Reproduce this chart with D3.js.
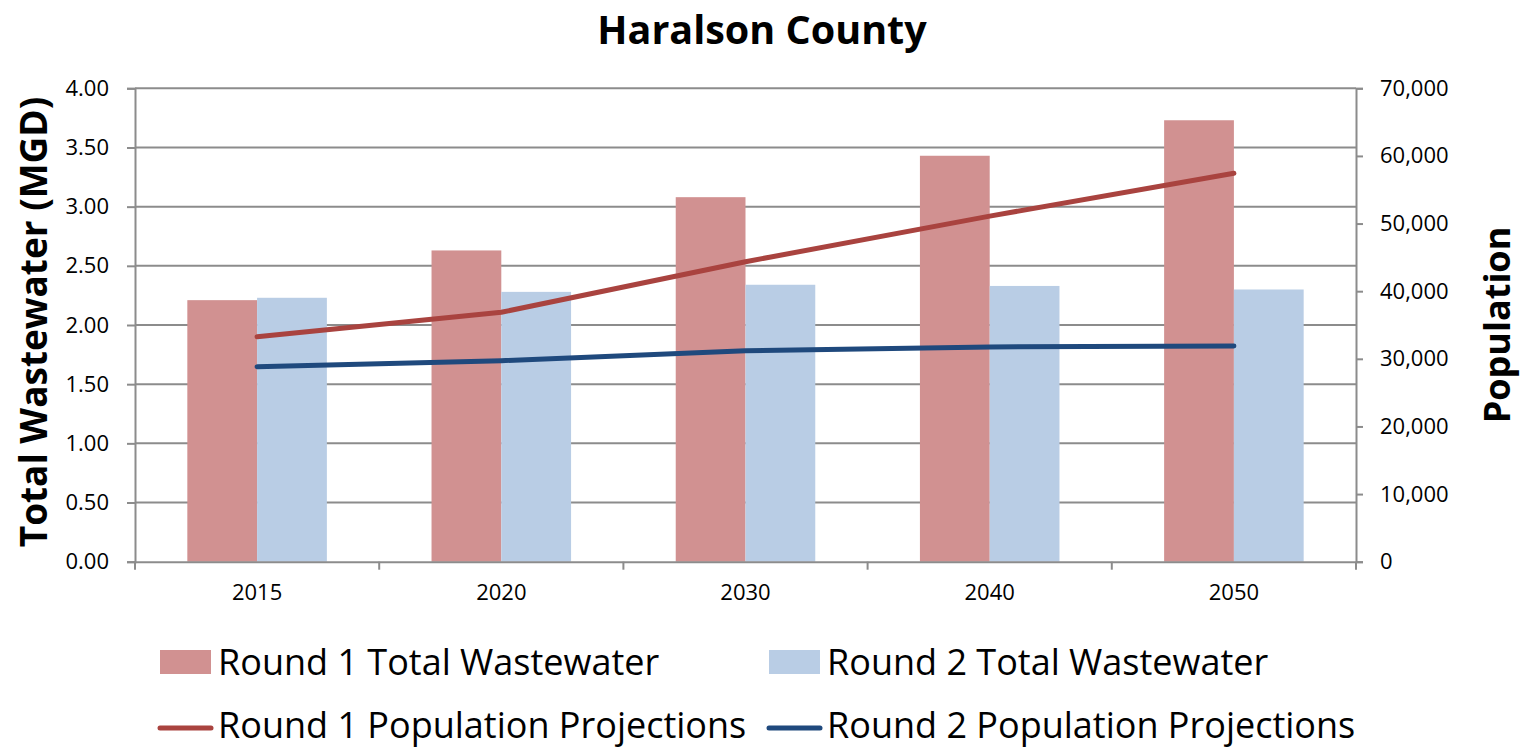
<!DOCTYPE html>
<html>
<head>
<meta charset="utf-8">
<script src="https://cdn.jsdelivr.net/npm/d3@7"></script>
<style>
  body { margin: 0; background: #fff; }
  svg text { font-family: "Open Sans", Lato, sans-serif; fill: #000; }
</style>
</head>
<body>
<div id="chart"></div>
<script>
// chart data
const years = ["2015", "2020", "2030", "2040", "2050"];
const round1Wastewater = [2.21, 2.63, 3.08, 3.43, 3.73];
const round2Wastewater = [2.23, 2.28, 2.34, 2.33, 2.30];
const round1Population = [33270, 36880, 44360, 51100, 57430];
const round2Population = [28830, 29720, 31200, 31750, 31900];
const leftTicks = [0, 0.5, 1, 1.5, 2, 2.5, 3, 3.5, 4];
const rightTicks = [0, 10000, 20000, 30000, 40000, 50000, 60000, 70000];

const width = 1524, height = 750;
const plot = { left: 135, right: 1356, top: 88.3, bottom: 561.7 };

const svg = d3.select("#chart").append("svg")
    .attr("width", width)
    .attr("height", height);

// scales
const x0 = d3.scaleBand().domain(years).range([plot.left, plot.right]);
const x1 = d3.scaleBand().domain(["r1", "r2"])
    .range([0, x0.bandwidth()])
    .paddingInner(0).paddingOuter(0.75);
const yL = d3.scaleLinear().domain([0, 4]).range([plot.bottom, plot.top]);
const yR = d3.scaleLinear().domain([0, 70000]).range([plot.bottom, plot.top]);

const gridColor = "#8c8c8c";

// gridlines
svg.append("g")
    .selectAll("line")
    .data(leftTicks.filter(d => d > 0))
    .enter().append("line")
    .attr("x1", plot.left).attr("x2", plot.right)
    .attr("y1", d => yL(d)).attr("y2", d => yL(d))
    .attr("stroke", gridColor).attr("stroke-width", 2);

// bars
const bars = svg.append("g");
bars.selectAll("rect.r1")
    .data(years)
    .enter().append("rect")
    .attr("x", (d) => x0(d) + x1("r1"))
    .attr("y", (d, i) => yL(round1Wastewater[i]))
    .attr("width", x1.bandwidth())
    .attr("height", (d, i) => yL(0) - yL(round1Wastewater[i]))
    .attr("fill", "#d19191");
bars.selectAll("rect.r2")
    .data(years)
    .enter().append("rect")
    .attr("x", (d) => x0(d) + x1("r2"))
    .attr("y", (d, i) => yL(round2Wastewater[i]))
    .attr("width", x1.bandwidth())
    .attr("height", (d, i) => yL(0) - yL(round2Wastewater[i]))
    .attr("fill", "#b9cde5");

// axes
const leftAxis = svg.append("g")
    .attr("transform", `translate(${plot.left},0)`)
    .call(d3.axisLeft(yL).tickValues(leftTicks).tickFormat(d3.format(".2f")).tickSize(8).tickPadding(18));
const rightAxis = svg.append("g")
    .attr("transform", `translate(${plot.right},0)`)
    .call(d3.axisRight(yR).tickValues(rightTicks).tickFormat(d3.format(",")).tickSize(7).tickPadding(17));
const bottomAxis = svg.append("g")
    .attr("transform", `translate(0,${plot.bottom})`)
    .call(d3.axisBottom(x0).tickSize(0).tickPadding(23));
// category boundary ticks
svg.append("g")
    .selectAll("line")
    .data(years.concat(["end"]))
    .enter().append("line")
    .attr("x1", (d, i) => i < years.length ? x0(d) : plot.right)
    .attr("x2", (d, i) => i < years.length ? x0(d) : plot.right)
    .attr("y1", plot.bottom).attr("y2", plot.bottom + 8)
    .attr("stroke", gridColor).attr("stroke-width", 2);

[leftAxis, rightAxis, bottomAxis].forEach(g => {
    g.select(".domain").attr("stroke", gridColor).attr("stroke-width", 2);
    g.selectAll(".tick line").attr("stroke", gridColor).attr("stroke-width", 2);
    g.selectAll(".tick text").style("font-size", "22px").attr("fill", "#000");
});

// population lines
const line = d3.line()
    .x((d, i) => x0(years[i]) + x0.bandwidth() / 2)
    .y(d => yR(d));
svg.append("path").datum(round1Population)
    .attr("d", line).attr("fill", "none")
    .attr("stroke", "#a9433f").attr("stroke-width", 5)
    .attr("stroke-linecap", "round").attr("stroke-linejoin", "round");
svg.append("path").datum(round2Population)
    .attr("d", line).attr("fill", "none")
    .attr("stroke", "#1f497d").attr("stroke-width", 5)
    .attr("stroke-linecap", "round").attr("stroke-linejoin", "round");

// titles
svg.append("text")
    .attr("x", 762).attr("y", 44)
    .attr("text-anchor", "middle")
    .style("font-size", "39.5px").style("font-weight", "bold")
    .text("Haralson County");
svg.append("text")
    .attr("transform", "translate(47,322) rotate(-90)")
    .attr("text-anchor", "middle")
    .style("font-size", "37px").style("font-weight", "bold")
    .text("Total Wastewater (MGD)");
svg.append("text")
    .attr("transform", "translate(1510,325) rotate(-90)")
    .attr("text-anchor", "middle")
    .style("font-size", "36px").style("font-weight", "bold")
    .text("Population");

// legend
const legendItems = [
    { label: "Round 1 Total Wastewater", color: "#d19191", type: "rect", x: 160, y: 675 },
    { label: "Round 2 Total Wastewater", color: "#b9cde5", type: "rect", x: 769, y: 675 },
    { label: "Round 1 Population Projections", color: "#a9433f", type: "line", x: 160, y: 738 },
    { label: "Round 2 Population Projections", color: "#1f497d", type: "line", x: 769, y: 738 }
];
const legend = svg.append("g");
legendItems.forEach(item => {
    if (item.type === "rect") {
        legend.append("rect")
            .attr("x", item.x).attr("y", item.y - 25)
            .attr("width", 51).attr("height", 24)
            .attr("fill", item.color);
    } else {
        legend.append("line")
            .attr("x1", item.x).attr("x2", item.x + 51)
            .attr("y1", item.y - 10).attr("y2", item.y - 10)
            .attr("stroke", item.color).attr("stroke-width", 5)
            .attr("stroke-linecap", "round");
    }
    legend.append("text")
        .attr("x", item.x + 58).attr("y", item.y)
        .style("font-size", "36px")
        .text(item.label);
});
</script>
</body>
</html>
